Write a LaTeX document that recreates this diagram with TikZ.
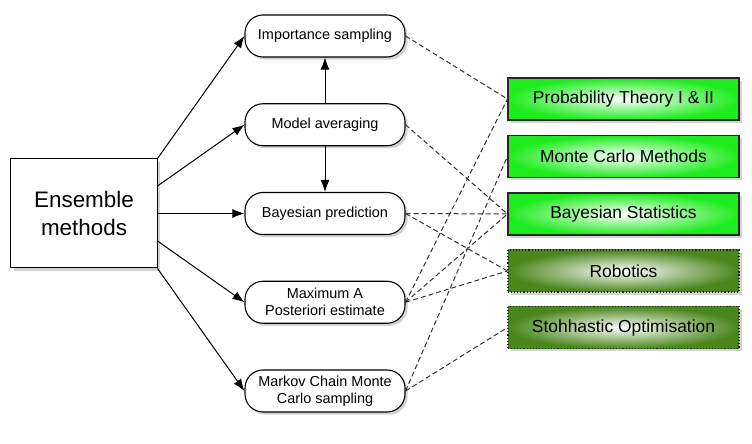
\documentclass[tikz,border=0pt]{standalone}
\usepackage{fontspec}
\setmainfont{Liberation Sans}
\usepackage{xcolor}
\usetikzlibrary{arrows.meta,shadows,positioning,calc}
\definecolor{corebright}{RGB}{30,236,30}
\definecolor{extragreen}{RGB}{74,134,28}
\tikzset{
  ensbox/.style={draw, fill=white, line width=1bp, minimum width=146bp, minimum height=109bp,
    align=center, font=\fontsize{22.5}{28.5}\selectfont, drop shadow={opacity=0.35}},
  method/.style={draw, fill=white, rounded corners=18bp, line width=1.1bp, minimum width=160bp,
    minimum height=42bp, inner xsep=2bp, align=center, font=\fontsize{14.5}{17}\selectfont,
    drop shadow={opacity=0.35}},
  course/.style={draw=black!85, line width=1.1bp, minimum width=231bp, minimum height=42bp,
    inner color=white, font=\fontsize{17.5}{20}\selectfont, drop shadow={opacity=0.35}},
  core/.style={course, outer color=corebright},
  extra/.style={course, outer color=extragreen, dotted},
  link/.style={-{Latex[length=12bp,width=9bp]}, line width=1bp},
  rel/.style={dash pattern=on 5bp off 3bp, line width=1bp, black!80}
}
\begin{document}
\begin{tikzpicture}[x=1bp,y=-1bp]
      \useasboundingbox (0,0) rectangle (752,444);
      \node[ensbox] at (84,213.5) (ens) {Ensemble\\methods};
      \node[method] at (325,36) (imp) {Importance sampling};
      \node[method] at (325,124.75) (avg) {Model averaging};
      \node[method] at (325,213.5) (pred) {Bayesian prediction};
      \node[method] at (325,302.25) (map) {Maximum A\\Posteriori estimate};
      \node[method] at (325,391) (mcmc) {Markov Chain Monte\\Carlo sampling};
      \node[core] at (623.5,99) (prob) {Probability Theory I \& II};
      \node[core] at (623.5,156.5) (mc) {Monte Carlo Methods};
      \node[core] at (623.5,214) (bs) {Bayesian Statistics};
      \node[extra] at (623.5,271) (rob) {Robotics};
      \node[extra] at (623.5,327.5) (sto) {Stohhastic Optimisation};
      \draw[link] (ens.north east) -- (imp.west);
      \draw[link] ($(ens.north east)!0.25!(ens.south east)$) -- (avg.west);
      \draw[link] (ens.east) -- (pred.west);
      \draw[link] ($(ens.north east)!0.75!(ens.south east)$) -- (map.west);
      \draw[link] (ens.south east) -- (mcmc.west);
      \draw[link] (avg) -- (imp);
      \draw[link] (avg) -- (pred);
      \draw[rel] (imp.east) -- (prob.west);
      \draw[rel] (avg.east) -- (bs.west);
      \draw[rel] (pred.east) -- (bs.west);
      \draw[rel] (pred.east) -- (rob.west);
      \draw[rel] (map.east) -- (prob.west);
      \draw[rel] (map.east) -- (bs.west);
      \draw[rel] (map.east) -- (rob.west);
      \draw[rel] (mcmc.east) -- (mc.west);
      \draw[rel] (mcmc.east) -- (sto.west);
    \end{tikzpicture}
\end{document}
